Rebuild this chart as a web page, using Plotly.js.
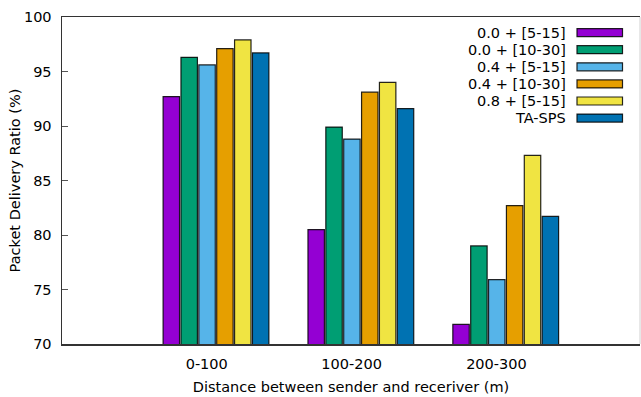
<!DOCTYPE html>
<html>
<head>
<meta charset="utf-8">
<script src="https://cdn.plot.ly/plotly-3.0.1.min.js"></script>
<style>html,body{margin:0;padding:0;background:#fff;}#chart{width:641px;height:397px;}</style>
</head>
<body>
<div id="chart"></div>
<script>
// ---- data ----
const categories = ["0-100", "100-200", "200-300"];
const seriesNames = ["0.0 + [5-15]", "0.0 + [10-30]", "0.4 + [5-15]", "0.4 + [10-30]", "0.8 + [5-15]", "TA-SPS"];
const pdr_00_5_15  = [92.7, 80.5, 71.8];
const pdr_00_10_30 = [96.3, 89.9, 79.0];
const pdr_04_5_15  = [95.6, 88.8, 75.9];
const pdr_04_10_30 = [97.1, 93.1, 82.7];
const pdr_08_5_15  = [97.9, 94.0, 87.3];
const pdr_TASPS    = [96.7, 91.6, 81.7];
const yTicks = [70, 75, 80, 85, 90, 95, 100];

// ---- chart ----
const series = [pdr_00_5_15, pdr_00_10_30, pdr_04_5_15, pdr_04_10_30, pdr_08_5_15, pdr_TASPS];
const colors = ["#9400d3", "#009e73", "#56b4e9", "#e69f00", "#f0e442", "#0072b2"];
const W = 641, H = 397, L = 62, R = 1, T = 17, B = 53;
const pw = W - L - R, ph = H - T - B;
const xIdx = categories.map((c, i) => i);
const fontFam = "DejaVu Sans, sans-serif";

const traces = series.map((vals, k) => ({
  type: "bar",
  name: seriesNames[k],
  x: xIdx,
  y: vals,
  marker: {color: colors[k], line: {color: "rgba(0,0,0,0.85)", width: 1.2}},
  showlegend: false,
  hoverinfo: "none"
}));

// manual legend (swatch on the right, text right-aligned)
const annotations = [], shapes = [];
seriesNames.forEach((nm, k) => {
  const yc = 32.6 + 17.1 * k;
  const py = (H - B - yc) / ph;
  annotations.push({
    xref: "paper", yref: "paper", x: (568 - L) / pw, y: py,
    xanchor: "right", yanchor: "middle", showarrow: false,
    text: nm, font: {family: fontFam, size: 14.5, color: "#000"}
  });
  shapes.push({
    type: "rect", xref: "paper", yref: "paper",
    x0: (577 - L) / pw, x1: (622.5 - L) / pw,
    y0: py - 4 / ph, y1: py + 4 / ph,
    fillcolor: colors[k], line: {color: "rgba(0,0,0,0.85)", width: 1.2}
  });
});
// faint right frame line
shapes.push({type: "line", xref: "paper", yref: "paper", x0: 1, x1: 1, y0: 0, y1: 1,
  line: {color: "#d0d0d0", width: 1}});

const layout = {
  width: W, height: H,
  margin: {l: L, r: R, t: T, b: B, pad: 0},
  paper_bgcolor: "#fff", plot_bgcolor: "#fff",
  font: {family: fontFam, size: 14.5, color: "#000"},
  barmode: "group", bargap: 0.26, bargroupgap: 0.08,
  showlegend: false,
  xaxis: {
    range: [-1.063, 2.927],
    tickvals: xIdx.map(i => i - 0.064),
    ticktext: categories,
    ticks: "", showgrid: false, zeroline: false,
    showline: true, linecolor: "#333", linewidth: 1.5, mirror: true,
    ticklabelstandoff: 6,
    title: {text: "Distance between sender and receriver (m)", font: {size: 14.5}, standoff: 11}
  },
  yaxis: {
    range: [70, 100],
    tickvals: yTicks,
    ticks: "inside", ticklen: 6, tickcolor: "#555", tickwidth: 1,
    showgrid: false, zeroline: false,
    showline: true, linecolor: "#333", linewidth: 1.5, mirror: false,
    ticklabelstandoff: 6,
    title: {text: "Packet Delivery Ratio (%)", font: {size: 14.5}, standoff: 0}
  },
  annotations: annotations,
  shapes: shapes
};

Plotly.newPlot("chart", traces, layout, {staticPlot: true, displayModeBar: false});
</script>
</body>
</html>
